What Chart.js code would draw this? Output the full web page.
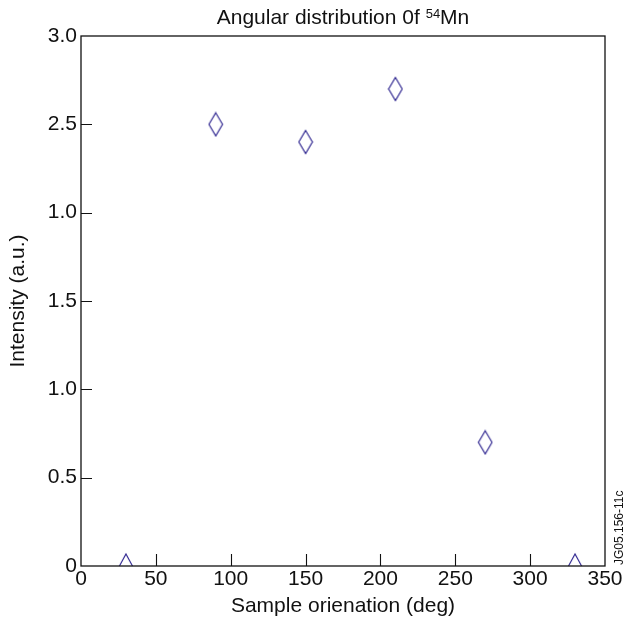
<!DOCTYPE html>
<html>
<head>
<meta charset="utf-8">
<script src="https://cdn.jsdelivr.net/npm/chart.js@4/dist/chart.umd.min.js"></script>
<style>
  html, body { margin: 0; padding: 0; background: #ffffff; }
  #wrap { width: 629px; height: 623px; position: relative; }
</style>
</head>
<body>
<div id="wrap"><canvas id="c" width="629" height="623"></canvas></div>
<script>
// ---- data ----
const diamondAngles = [90, 150, 210, 270];
const diamondValues = [2.5, 2.4, 2.7, 0.7];
const triangleAngles = [30, 330];
const triangleValues = [0, 0];
const yTickLabels = ['0', '0.5', '1.0', '1.5', '1.0', '2.5', '3.0'];
const xTickValues = [0, 50, 100, 150, 200, 250, 300, 350];
const titleMain = 'Angular distribution 0f ';
const titleSup = '54';
const titleEnd = 'Mn';
const xTitle = 'Sample orienation (deg)';
const yTitle = 'Intensity (a.u.)';
const sideNote = 'JG05.156-11c';

const FONT = 'Liberation Sans, Arial, Helvetica, sans-serif';
const MARK = '#2f2690';

function diamondCanvas() {
  const c = document.createElement('canvas');
  c.width = 16; c.height = 26;
  const g = c.getContext('2d');
  g.strokeStyle = MARK; g.lineWidth = 1.15;
  g.beginPath();
  g.moveTo(8, 1.5); g.lineTo(14.8, 13); g.lineTo(8, 24.5); g.lineTo(1.2, 13); g.closePath();
  g.stroke();
  return c;
}
function triangleCanvas() {
  const c = document.createElement('canvas');
  c.width = 16; c.height = 28;
  const g = c.getContext('2d');
  g.strokeStyle = MARK; g.lineWidth = 1.15;
  g.beginPath();
  g.moveTo(1.5, 14); g.lineTo(8, 2); g.lineTo(14.5, 14);
  g.stroke();
  return c;
}

const toPts = (xs, ys) => xs.map((x, i) => ({ x: x, y: ys[i] }));

const framePlugin = {
  id: 'frame',
  afterDraw(chart) {
    const ctx = chart.ctx;
    const a = chart.chartArea;
    const xs = chart.scales.x, ys = chart.scales.y;
    ctx.save();
    ctx.strokeStyle = '#111';
    ctx.lineWidth = 1.3;
    ctx.strokeRect(a.left, a.top, a.right - a.left, a.bottom - a.top);
    ctx.lineWidth = 1.1;
    ctx.beginPath();
    xs.ticks.forEach(t => {
      if (t.value <= xs.min || t.value >= xs.max) return;
      const px = Math.round(xs.getPixelForValue(t.value)) + 0.5;
      ctx.moveTo(px, a.bottom); ctx.lineTo(px, a.bottom - 12);
    });
    ys.ticks.forEach(t => {
      if (t.value <= ys.min || t.value >= ys.max) return;
      const py = Math.round(ys.getPixelForValue(t.value)) + 0.5;
      ctx.moveTo(a.left, py); ctx.lineTo(a.left + 11, py);
    });
    ctx.stroke();

    // title with superscript
    ctx.fillStyle = '#111';
    ctx.textBaseline = 'alphabetic';
    const big = '21px ' + FONT, small = '13px ' + FONT;
    ctx.font = big;
    const w1 = ctx.measureText(titleMain).width;
    const w3 = ctx.measureText(titleEnd).width;
    ctx.font = small;
    const w2 = ctx.measureText(titleSup).width;
    const total = w1 + w2 + w3;
    let x = (a.left + a.right) / 2 - total / 2;
    const base = 24;
    ctx.textAlign = 'left';
    ctx.font = big; ctx.fillText(titleMain, x, base); x += w1;
    ctx.font = small; ctx.fillText(titleSup, x, base - 6); x += w2;
    ctx.font = big; ctx.fillText(titleEnd, x, base);

    // rotated side note
    ctx.save();
    ctx.translate(620, a.bottom - 1);
    ctx.rotate(-Math.PI / 2);
    ctx.font = '12px ' + FONT;
    ctx.textAlign = 'left';
    ctx.textBaseline = 'middle';
    ctx.fillText(sideNote, 0, 0);
    ctx.restore();
    ctx.restore();
  }
};

new Chart(document.getElementById('c'), {
  type: 'scatter',
  data: {
    datasets: [
      {
        label: 'diamonds',
        data: toPts(diamondAngles, diamondValues),
        pointStyle: diamondCanvas(),
        pointRadius: 12,
        clip: false
      },
      {
        label: 'triangles',
        data: toPts(triangleAngles, triangleValues),
        pointStyle: triangleCanvas(),
        pointRadius: 12,
        clip: false
      }
    ]
  },
  options: {
    responsive: false,
    animation: false,
    events: [],
    layout: { padding: { top: 36, right: 24, left: 0, bottom: 0 } },
    plugins: { legend: { display: false }, tooltip: { enabled: false }, title: { display: false } },
    scales: {
      x: {
        type: 'linear',
        min: 0, max: 350,
        afterBuildTicks: s => { s.ticks = xTickValues.map(v => ({ value: v })); },
        afterFit: s => { s.height = 57; },
        grid: { display: false, drawTicks: false },
        border: { display: false },
        ticks: { color: '#111', font: { family: FONT, size: 21 }, padding: 1, maxRotation: 0, autoSkip: false },
        title: { display: true, text: xTitle, color: '#111', font: { family: FONT, size: 21 }, padding: { top: 0, bottom: 4 } }
      },
      y: {
        type: 'linear',
        min: 0, max: 3,
        ticks: {
          stepSize: 0.5,
          color: '#111',
          font: { family: FONT, size: 21 },
          padding: 4,
          autoSkip: false,
          callback: (v, i) => yTickLabels[i]
        },
        afterFit: s => { s.width = 81; },
        grid: { display: false, drawTicks: false },
        border: { display: false },
        title: { display: true, text: yTitle, color: '#111', font: { family: FONT, size: 21 }, padding: { top: 6, bottom: 0 } }
      }
    }
  },
  plugins: [framePlugin]
});
</script>
</body>
</html>
